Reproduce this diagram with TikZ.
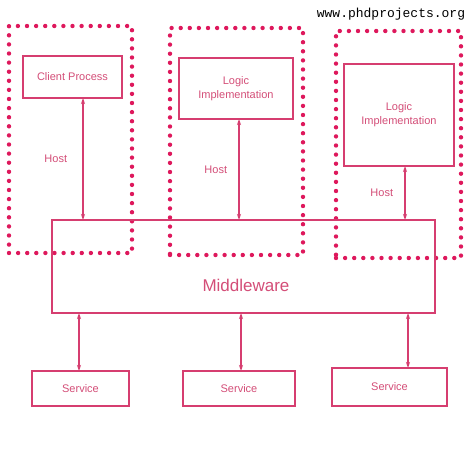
\documentclass[tikz,border=0pt]{standalone}
\usepackage{fontspec}
\setmainfont{Liberation Sans}
\newfontfamily\wmfont{Liberation Mono}
\usetikzlibrary{arrows.meta}
\definecolor{lnc}{RGB}{214,62,112}
\definecolor{dotc}{RGB}{222,24,92}
\definecolor{txc}{RGB}{212,78,120}
\tikzset{
  box/.style={draw=lnc, line width=1.2pt, inner sep=0pt, outer sep=0pt, text=txc, font=\fontsize{11}{14}\selectfont, align=center},
  dotbox/.style={draw=dotc, line width=4.4pt, line cap=round, dash pattern=on 0pt off 9.1pt, inner sep=0pt, outer sep=0pt},
  arr/.style={draw=lnc, line width=1.2pt, {Stealth[length=6pt,width=4pt]}-{Stealth[length=6pt,width=4pt]}},
  lbl/.style={text=txc, font=\fontsize{11}{13}\selectfont}
}
\begin{document}
\begin{tikzpicture}[x=1pt,y=-1pt]
\useasboundingbox (0,0) rectangle (474,474);
\fill[white] (0,0) rectangle (474,474);
% dotted containers
\node[dotbox, minimum width=123pt, minimum height=227pt] (d1) at (70.5,139.5) {};
\node[dotbox, minimum width=133pt, minimum height=227pt] (d2) at (236.5,141.5) {};
\node[dotbox, minimum width=125pt, minimum height=227pt] (d3) at (398.5,144.5) {};
% boxes
\node[box, minimum width=99pt, minimum height=42pt] (cp) at (72.5,77) {Client Process};
\node[box, minimum width=114pt, minimum height=61pt] (l1) at (236,88.5) {Logic\\Implementation};
\node[box, minimum width=110pt, minimum height=102pt] (l2) at (399,115) {Logic\\Implementation};
\node[box, minimum width=383pt, minimum height=93pt] (mw) at (243.5,266.5) {};
\node[lbl, font=\fontsize{17}{20}\selectfont] (mwt) at (246,285) {Middleware};
\node[box, minimum width=97pt, minimum height=35pt] (s1) at (80.5,388.5) {Service};
\node[box, minimum width=112pt, minimum height=35pt] (s2) at (239,388.5) {Service};
\node[box, minimum width=115pt, minimum height=38pt] (s3) at (389.5,387) {Service};
% arrow columns
\coordinate (c1) at (83,0);
\coordinate (c2) at (239,0);
\coordinate (c3) at (405,0);
\coordinate (c4) at (79,0);
\coordinate (c5) at (241,0);
\coordinate (c6) at (408,0);
\draw[arr] (cp.south -| c1) -- node[lbl, midway, left=12pt] {Host} (mw.north -| c1);
\draw[arr] (l1.south -| c2) -- node[lbl, midway, left=8pt] {Host} (mw.north -| c2);
\draw[arr] (l2.south -| c3) -- node[lbl, midway, left=8pt] {Host} (mw.north -| c3);
\draw[arr] (mw.south -| c4) -- (s1.north -| c4);
\draw[arr] (mw.south -| c5) -- (s2.north -| c5);
\draw[arr] (mw.south -| c6) -- (s3.north -| c6);
% watermark
\node[font=\wmfont\fontsize{13}{15}\selectfont, text=black] (wm) at (391,14) {www.phdprojects.org};
\end{tikzpicture}
\end{document}
